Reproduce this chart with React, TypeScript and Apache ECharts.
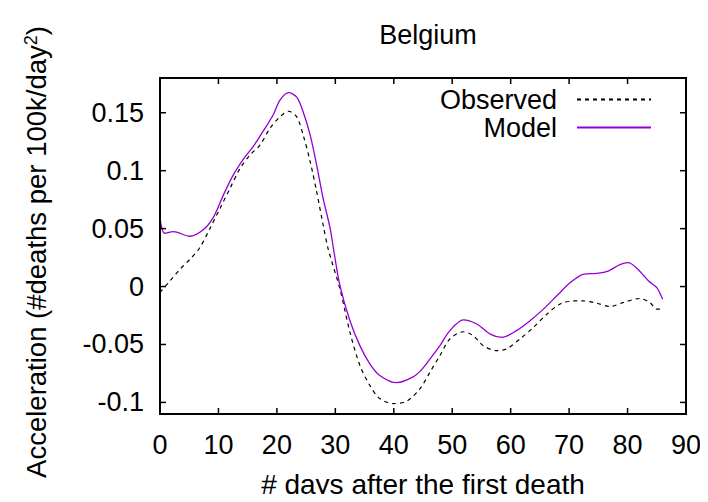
import React, { useEffect, useRef } from "react";
import * as echarts from "echarts";

const chartTitle = "Belgium";
const xAxisTitle = "# days after the first death";
const seriesNames = ["Observed", "Model"];

const observedDays = [0, 1.7, 3.4, 5.1, 6.8, 8.6, 10.3, 12, 13.7, 15.4, 17.1, 18.8, 20.5, 22, 23.4, 24.5, 25.7, 26.8, 27.9, 28.8, 30.8, 32.5, 34.2, 35.9, 37.6, 39.9, 42.2, 44.5, 46.2, 47.9, 49.6, 51.9, 53.6, 55.3, 57.6, 59.3, 61.6, 63.9, 66.2, 68.4, 70.7, 72.4, 74.7, 77, 79.3, 82.1, 83.8, 85, 85.8];
const observedValues = [-0.0051, 0.0048, 0.0148, 0.0234, 0.0335, 0.0506, 0.0678, 0.085, 0.102, 0.1135, 0.122, 0.1364, 0.1464, 0.1513, 0.1464, 0.1307, 0.1078, 0.082, 0.0535, 0.032, -0.0023, -0.0395, -0.068, -0.0853, -0.0967, -0.101, -0.099, -0.088, -0.0738, -0.0595, -0.0452, -0.039, -0.0424, -0.051, -0.0553, -0.0538, -0.0452, -0.0352, -0.0238, -0.0152, -0.0124, -0.0124, -0.0143, -0.0172, -0.0137, -0.0103, -0.0137, -0.0195, -0.0195];

const modelDays = [0, 0.8, 2.3, 5.1, 7.4, 9.1, 10.8, 12.5, 14.3, 16, 17.7, 19.4, 20.5, 22, 23.4, 24.5, 25.7, 26.8, 27.9, 29.1, 29.8, 30.8, 32.5, 34.2, 35.9, 37.6, 40.5, 43.3, 44.8, 46.2, 47.9, 49.6, 51.9, 54.2, 56.5, 58.5, 61, 63.3, 65.6, 67.9, 70.2, 72.4, 74.7, 76.7, 78.7, 80.1, 81.8, 83.6, 85, 86];
const modelValues = [0.059, 0.046, 0.0474, 0.0434, 0.049, 0.0595, 0.0785, 0.096, 0.1102, 0.1212, 0.1345, 0.1485, 0.1607, 0.1673, 0.1635, 0.1507, 0.1307, 0.105, 0.0763, 0.0506, 0.029, 0.0005, -0.0295, -0.051, -0.0667, -0.0767, -0.083, -0.078, -0.0715, -0.0624, -0.051, -0.038, -0.0287, -0.0323, -0.041, -0.0438, -0.038, -0.0295, -0.0195, -0.008, 0.0034, 0.0106, 0.0114, 0.0134, 0.019, 0.0206, 0.0148, 0.0048, -0.0009, -0.0109];

const yTickValues = [-0.1, -0.05, 0, 0.05, 0.1, 0.15];
const xTickValues = [0, 10, 20, 30, 40, 50, 60, 70, 80, 90];
const xRange = [0, 90];
const yRange = [-0.11, 0.18];

const FONT = "Liberation Sans";

export default function App() {
  const ref = useRef<HTMLDivElement>(null);
  useEffect(() => {
    if (!ref.current) return;
    const chart = echarts.init(ref.current, null, { renderer: "svg" });
    const obsData = observedDays.map((d, i) => [d, observedValues[i]]);
    const modData = modelDays.map((d, i) => [d, modelValues[i]]);
    const legendBase = () => ({
      right: 51,
      align: "right",
      itemWidth: 74,
      itemHeight: 14,
      itemStyle: { opacity: 0 },
      textStyle: { fontFamily: FONT, fontSize: 27, color: "#000", padding: [0, 15, 0, 0] },
    });
    chart.setOption({
      animation: false,
      backgroundColor: "#fff",
      textStyle: { fontFamily: FONT },
      title: {
        text: chartTitle,
        left: 423,
        top: 16,
        textAlign: "center",
        textStyle: { fontFamily: FONT, fontSize: 27, fontWeight: "normal", color: "#000" },
      },
      grid: { left: 160, right: 22, top: 78, bottom: 88, containLabel: false, outerBoundsMode: "none", show: false },
      legend: [
        { ...legendBase(), data: [seriesNames[0]], top: 81 },
        { ...legendBase(), data: [seriesNames[1]], top: 109 },
      ],
      xAxis: {
        type: "value",
        min: xRange[0],
        max: xRange[1],
        interval: 10,
        name: xAxisTitle,
        nameLocation: "middle",
        nameGap: 56,
        nameTextStyle: { fontFamily: FONT, fontSize: 28, color: "#000" },
        axisLine: { show: false },
        axisTick: { show: false },
        axisLabel: { fontFamily: FONT, fontSize: 27, color: "#000", margin: 17, customValues: xTickValues },
        splitLine: { show: false },
      },
      yAxis: {
        type: "value",
        min: yRange[0],
        max: yRange[1],
        axisLine: { show: false },
        axisTick: { show: false },
        axisLabel: {
          fontFamily: FONT,
          fontSize: 27,
          color: "#000",
          margin: 16,
          customValues: yTickValues,
          formatter: (v: number) => String(Math.round(v * 100) / 100),
        },
        splitLine: { show: false },
      },
      series: [
        {
          name: seriesNames[0],
          type: "line",
          data: obsData,
          smooth: 0.3,
          symbol: "none",
          lineStyle: { color: "#000", width: 1.2, type: [4, 4] },
          itemStyle: { color: "#000" },
        },
        {
          name: seriesNames[1],
          type: "line",
          data: modData,
          smooth: 0.3,
          symbol: "none",
          lineStyle: { color: "#9400d3", width: 1.3 },
          itemStyle: { color: "#9400d3" },
        },
      ],
    });

    const p0 = chart.convertToPixel({ gridIndex: 0 }, [xRange[0], yRange[0]]) as number[];
    const p1 = chart.convertToPixel({ gridIndex: 0 }, [xRange[1], yRange[1]]) as number[];
    const [x0, yb] = p0;
    const [x1, yt] = p1;
    const TL = 6;
    const stroke = { stroke: "#000", lineWidth: 1.5 };
    const frameEls: any[] = [
      {
        type: "rect",
        z: 10,
        shape: { x: x0, y: yt, width: x1 - x0, height: yb - yt },
        style: { fill: "none", stroke: "#000", lineWidth: 2 },
      },
    ];
    xTickValues.forEach((v) => {
      const px = (chart.convertToPixel({ gridIndex: 0 }, [v, yRange[0]]) as number[])[0];
      frameEls.push({ type: "line", z: 10, shape: { x1: px, y1: yb, x2: px, y2: yb - TL }, style: { ...stroke } });
      frameEls.push({ type: "line", z: 10, shape: { x1: px, y1: yt, x2: px, y2: yt + TL }, style: { ...stroke } });
    });
    yTickValues.forEach((v) => {
      const py = (chart.convertToPixel({ gridIndex: 0 }, [xRange[0], v]) as number[])[1];
      frameEls.push({ type: "line", z: 10, shape: { x1: x0, y1: py, x2: x0 + TL, y2: py }, style: { ...stroke } });
      frameEls.push({ type: "line", z: 10, shape: { x1: x1, y1: py, x2: x1 - TL, y2: py }, style: { ...stroke } });
    });

    chart.setOption({
      graphic: [
        {
          type: "text",
          x: 36,
          y: 252,
          rotation: Math.PI / 2,
          style: {
            text: "{a|Acceleration (#deaths per 100k/day}{s|2}{a|)}",
            textAlign: "center",
            textVerticalAlign: "middle",
            fill: "#000",
            rich: {
              a: { fontFamily: FONT, fontSize: 27.5, lineHeight: 28, verticalAlign: "bottom", fill: "#000" },
              s: { fontFamily: FONT, fontSize: 18, lineHeight: 18, verticalAlign: "top", padding: [0, 0, 28, 0], fill: "#000" },
            },
          },
        },
        ...frameEls,
      ],
    });
    return () => chart.dispose();
  }, []);
  return <div ref={ref} style={{ width: 708, height: 502, margin: -8 }} />;
}
